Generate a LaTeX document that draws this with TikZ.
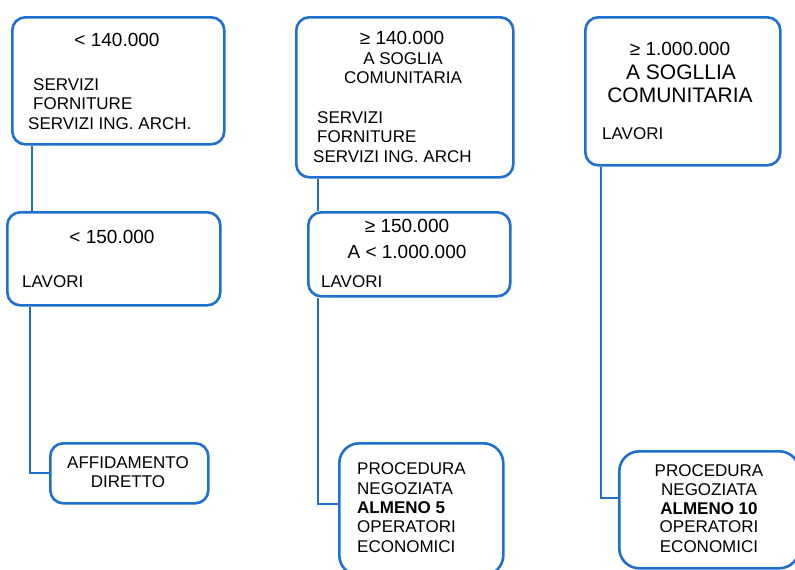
\documentclass[tikz,border=0pt]{standalone}
\usepackage{fontspec}
\setmainfont{Liberation Sans}
\definecolor{boxblue}{RGB}{31,111,207}
\tikzset{
  box/.style={draw=boxblue, line width=2.6pt, rounded corners=13pt, fill=white, inner sep=0pt, anchor=north west},
  bigbox/.style={box, rounded corners=20pt},
  conn/.style={draw=boxblue, line width=2pt},
  body/.style={inner sep=0pt, font=\fontsize{17}{19.5}\selectfont},
  bodyL/.style={body, anchor=base west},
  bodyC/.style={body, anchor=base},
  title/.style={inner sep=0pt, anchor=base, font=\fontsize{19}{22}\selectfont},
  bigtitle/.style={inner sep=0pt, anchor=base, font=\fontsize{21}{24}\selectfont},
}
\begin{document}
\begin{tikzpicture}[x=1pt,y=-1pt]
\useasboundingbox (0,0) rectangle (795,570);
% boxes
\node[box, minimum width=212pt, minimum height=127pt] (A) at (11,16) {};
\node[box, minimum width=213pt, minimum height=93pt] (B) at (6,211) {};
\node[box, minimum width=158pt, minimum height=60pt] (Aff) at (49,442) {};
\node[box, minimum width=217pt, minimum height=160pt] (C) at (295,16) {};
\node[box, minimum width=202pt, minimum height=84pt] (D) at (307,211) {};
\node[bigbox, minimum width=164pt, minimum height=132pt] (E) at (338,442) {};
\node[box, minimum width=195pt, minimum height=148pt] (F) at (584,16) {};
\node[bigbox, minimum width=180pt, minimum height=117pt] (G) at (618,450) {};
% connector columns
\coordinate (cA) at (32,0);
\coordinate (cB) at (30,0);
\coordinate (cC) at (318,0);
\coordinate (cD) at (318,0);
\coordinate (cF) at (601,0);
\draw[conn] (A.south -| cA) -- (B.north -| cA);
\draw[conn] (B.south -| cB) |- (Aff.west);
\draw[conn] (C.south -| cC) -- (D.north -| cC);
\draw[conn] (D.south -| cD) |- ([yshift=5pt]E.west);
\draw[conn] (F.south -| cF) |- ([yshift=11.5pt]G.west);
% texts A
\node[title] (a1) at (117,46) {< 140.000};
\node[bodyL] (a2) at (33,90) {SERVIZI};
\node[bodyL] (a3) at (33,109) {FORNITURE};
\node[bodyL] (a4) at (28,129) {SERVIZI ING. ARCH.};
% texts B
\node[title] (b1) at (112,243) {< 150.000};
\node[bodyL] (b2) at (22,287) {LAVORI};
% Aff
\node[bodyC] (f1) at (128,468) {AFFIDAMENTO};
\node[bodyC] (f2) at (128,487) {DIRETTO};
% C
\node[title] (c1) at (402,44) {≥ 140.000};
\node[bodyC] (c2) at (403,64) {A SOGLIA};
\node[bodyC] (c3) at (403,83) {COMUNITARIA};
\node[bodyL] (c4) at (317,123) {SERVIZI};
\node[bodyL] (c5) at (317,142) {FORNITURE};
\node[bodyL] (c6) at (313,162) {SERVIZI ING. ARCH};
% D
\node[title] (d1) at (407,232) {≥ 150.000};
\node[title] (d2) at (407,258) {A < 1.000.000};
\node[bodyL] (d3) at (321,287) {LAVORI};
% E
\node[bodyL] (e1) at (357,474) {PROCEDURA};
\node[bodyL] (e2) at (357,494) {NEGOZIATA};
\node[bodyL] (e3) at (357,513) {\bfseries ALMENO 5};
\node[bodyL] (e4) at (357,532) {OPERATORI};
\node[bodyL] (e5) at (357,552) {ECONOMICI};
% F
\node[title] (g1) at (680,55) {≥ 1.000.000};
\node[bigtitle] (g2) at (681,79) {A SOGLLIA};
\node[bigtitle] (g3) at (680,102) {COMUNITARIA};
\node[bodyL] (g4) at (602,139) {LAVORI};
% G
\node[bodyC] (h1) at (709,476) {PROCEDURA};
\node[bodyC] (h2) at (709,495) {NEGOZIATA};
\node[bodyC] (h3) at (709,514) {\bfseries ALMENO 10};
\node[bodyC] (h4) at (709,532) {OPERATORI};
\node[bodyC] (h5) at (709,552) {ECONOMICI};
\end{tikzpicture}
\end{document}
